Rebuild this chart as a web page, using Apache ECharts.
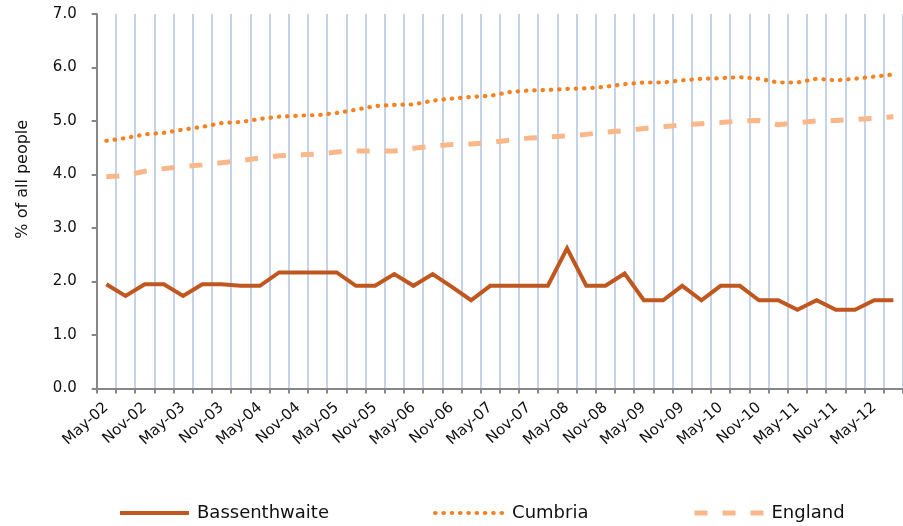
<!DOCTYPE html>
<html>
<head>
<meta charset="utf-8">
<script src="https://cdn.jsdelivr.net/npm/echarts@6/dist/echarts.min.js"></script>
<style>html,body{margin:0;padding:0;background:#fff;}#c{width:903px;height:526px;}</style>
</head>
<body>
<div id="c"></div>
<script>
var categories = ['May-02','Aug-02','Nov-02','Feb-03','May-03','Aug-03','Nov-03','Feb-04','May-04','Aug-04','Nov-04','Feb-05','May-05','Aug-05','Nov-05','Feb-06','May-06','Aug-06','Nov-06','Feb-07','May-07','Aug-07','Nov-07','Feb-08','May-08','Aug-08','Nov-08','Feb-09','May-09','Aug-09','Nov-09','Feb-10','May-10','Aug-10','Nov-10','Feb-11','May-11','Aug-11','Nov-11','Feb-12','May-12','Aug-12'];
var bassenthwaite = [1.95,1.73,1.95,1.95,1.73,1.95,1.95,1.92,1.92,2.17,2.17,2.17,2.17,1.92,1.92,2.14,1.92,2.14,1.90,1.65,1.92,1.92,1.92,1.92,2.62,1.92,1.92,2.15,1.65,1.65,1.92,1.65,1.92,1.92,1.65,1.65,1.47,1.65,1.47,1.47,1.65,1.65];
var cumbria = [4.63,4.68,4.75,4.78,4.84,4.89,4.96,4.98,5.04,5.08,5.10,5.11,5.15,5.21,5.28,5.30,5.31,5.38,5.42,5.45,5.47,5.54,5.57,5.58,5.60,5.61,5.64,5.69,5.72,5.72,5.76,5.79,5.80,5.82,5.79,5.72,5.72,5.79,5.76,5.79,5.83,5.87];
var england = [3.96,3.98,4.06,4.11,4.15,4.18,4.22,4.26,4.31,4.35,4.37,4.38,4.42,4.44,4.44,4.44,4.49,4.53,4.56,4.57,4.60,4.64,4.68,4.70,4.72,4.75,4.79,4.82,4.86,4.89,4.93,4.95,4.97,5.00,5.01,4.93,4.97,5.00,5.01,5.03,5.05,5.08];
var yTicks = [0,1,2,3,4,5,6,7];
var seriesNames = ['Bassenthwaite','Cumbria','England'];

var FONT = 'DejaVu Sans';
var LINE_STYLES = [
  {color:'#C0571F', width:4, type:'solid', join:'miter'},
  {color:'#F58220', width:4.2, type:[0.5,7.8], cap:'round'},
  {color:'#FAB78A', width:5, type:[13,15]}
];
var chart = echarts.init(document.getElementById('c'), null, {renderer:'canvas'});
function legendFor(i, left){
  return {
    data:[seriesNames[i]], left:left, top:497, orient:'horizontal',
    itemWidth:69, itemHeight:14, itemGap:0,
    itemStyle:{opacity:0},
    lineStyle:LINE_STYLES[i],
    textStyle:{fontFamily:FONT, fontSize:18, color:'#111', lineHeight:22, padding:[0,0,0,3]}
  };
}
chart.setOption({
  animation:false,
  backgroundColor:'#fff',
  grid:{left:96.7, right:-4.3, top:14, bottom:137.5, containLabel:false},
  legend:[legendFor(0,113), legendFor(1,428), legendFor(2,687)],
  xAxis:{
    type:'category', data:categories, boundaryGap:true,
    axisLine:{lineStyle:{color:'#878787', width:2}},
    axisTick:{show:true, inside:false, length:5, interval:0, lineStyle:{color:'#878787', width:2}},
    axisLabel:{interval:1, rotate:42, margin:17, fontFamily:FONT, fontSize:15, color:'#111'},
    splitLine:{show:true, interval:0, lineStyle:{color:'#C3D4EA', width:2}}
  },
  yAxis:{
    type:'value', min:yTicks[0], max:yTicks[yTicks.length-1], interval:1,
    name:'% of all people', nameLocation:'middle', nameRotate:90, nameGap:66,
    nameTextStyle:{fontFamily:FONT, fontSize:16, color:'#111', padding:[0,0,0,44]},
    axisLine:{show:true, lineStyle:{color:'#878787', width:2}},
    axisTick:{show:true, inside:false, length:5, lineStyle:{color:'#878787', width:2}},
    axisLabel:{margin:20, fontFamily:FONT, fontSize:15, color:'#111', formatter:function(v){return v.toFixed(1);}},
    splitLine:{show:false}
  },
  series:[
    {name:seriesNames[0], type:'line', data:bassenthwaite, symbol:'none', smooth:false, z:5,
     lineStyle:LINE_STYLES[0], itemStyle:{color:LINE_STYLES[0].color}},
    {name:seriesNames[1], type:'line', data:cumbria, symbol:'none', smooth:false, z:4,
     lineStyle:LINE_STYLES[1], itemStyle:{color:LINE_STYLES[1].color}},
    {name:seriesNames[2], type:'line', data:england, symbol:'none', smooth:false, z:3,
     lineStyle:LINE_STYLES[2], itemStyle:{color:LINE_STYLES[2].color}}
  ]
});
</script>
</body>
</html>
